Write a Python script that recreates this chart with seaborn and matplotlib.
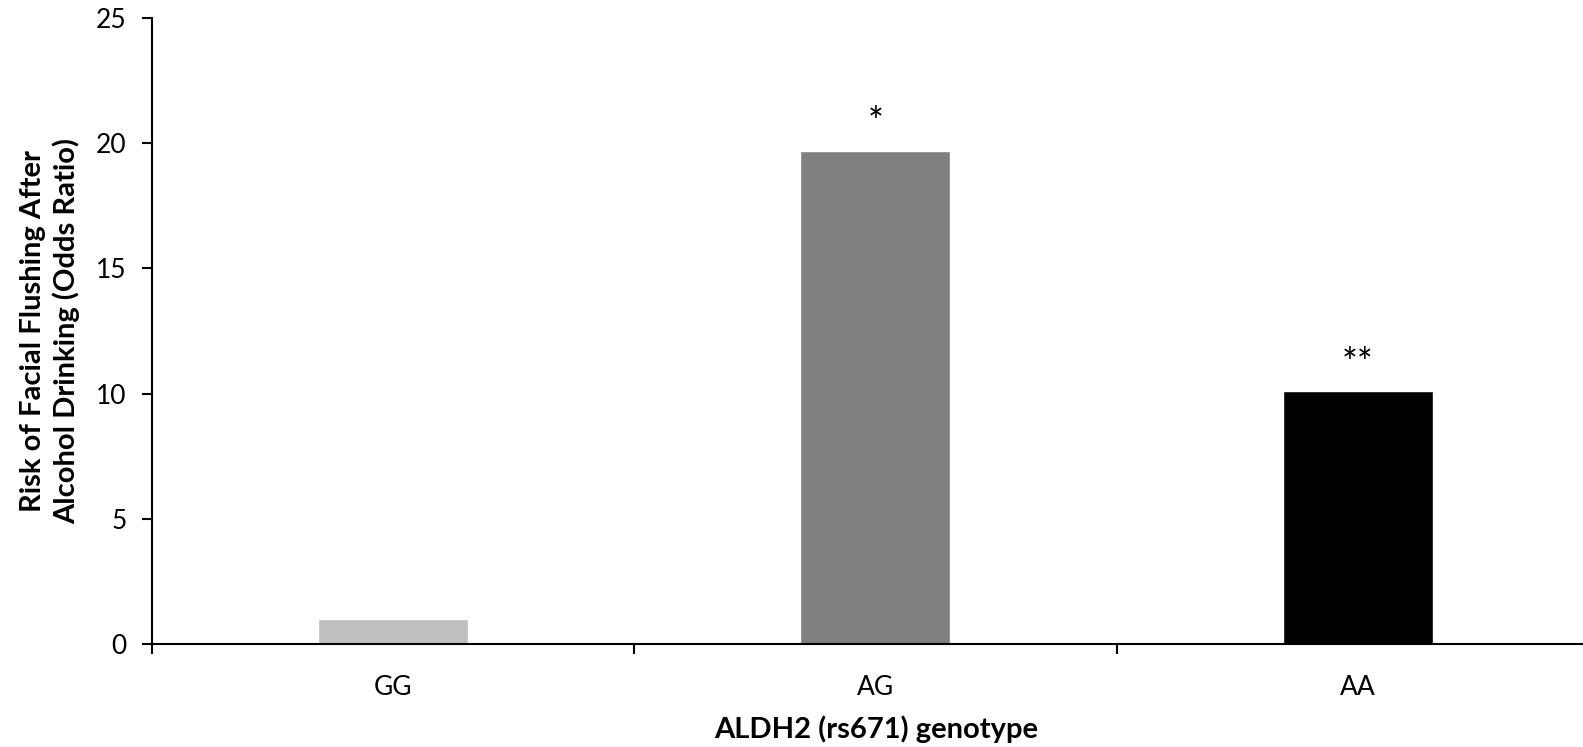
import matplotlib
matplotlib.use("Agg")
import matplotlib.pyplot as plt
import seaborn as sns
import pandas as pd
from matplotlib.ticker import FixedLocator

categories = ["GG", "AG", "AA"]
odds_ratio = [1.0, 19.7, 10.1]
significance = ["", "*", "**"]
bar_colors = ["#BFBFBF", "#808080", "#000000"]
y_ticks = [0, 5, 10, 15, 20, 25]

sns.set_theme(style="white")
plt.rcParams["font.family"] = ["Lato", "DejaVu Sans"]

df = pd.DataFrame({"genotype": categories, "odds": odds_ratio})

fig = plt.figure(figsize=(15.83, 7.47), dpi=100)
ax = fig.add_axes([151.5 / 1583, 103 / 747, 1447.5 / 1583, 626 / 747])

sns.barplot(data=df, x="genotype", y="odds", hue="genotype",
            palette=bar_colors, order=categories, hue_order=categories,
            width=0.31, saturation=1, legend=False, ax=ax)

ax.set_xlim(-0.5, 2.5)
ax.set_ylim(0, 25)
ax.set_yticks(y_ticks)
ax.set_yticklabels([str(t) for t in y_ticks], fontsize=19)

for i, (v, s) in enumerate(zip(odds_ratio, significance)):
    if s:
        ax.text(i, v + 1.05, s, ha="center", va="center", fontsize=27, color="black")

for side in ["top", "right"]:
    ax.spines[side].set_visible(False)
for side in ["left", "bottom"]:
    ax.spines[side].set_linewidth(1.5)
    ax.spines[side].set_color("black")

ax.tick_params(axis="y", which="major", direction="out", length=7, width=1.5,
               color="black", left=True, pad=11, labelcolor="black")
ax.tick_params(axis="x", which="major", length=0, pad=22, labelsize=19, labelcolor="black")
ax.xaxis.set_minor_locator(FixedLocator([-0.5, 0.5, 1.5]))
ax.tick_params(axis="x", which="minor", direction="out", length=7, width=1.5,
               color="black", bottom=True)

ax.set_xlabel("ALDH2 (rs671) genotype", fontsize=21, fontweight="bold", color="black")
ax.xaxis.set_label_coords((876 - 151.5) / 1447.5, -(729 - 644) / 626, transform=ax.transAxes)
ax.xaxis.label.set_va("center")
ax.set_ylabel("Risk of Facial Flushing After\nAlcohol Drinking (Odds Ratio)",
              fontsize=21, fontweight="bold", color="black", linespacing=1.3)
ax.yaxis.set_label_coords(-(151.5 - 50) / 1447.5, 0.5, transform=ax.transAxes)
ax.yaxis.label.set_va("center")

fig.savefig("out.png", dpi=100)
